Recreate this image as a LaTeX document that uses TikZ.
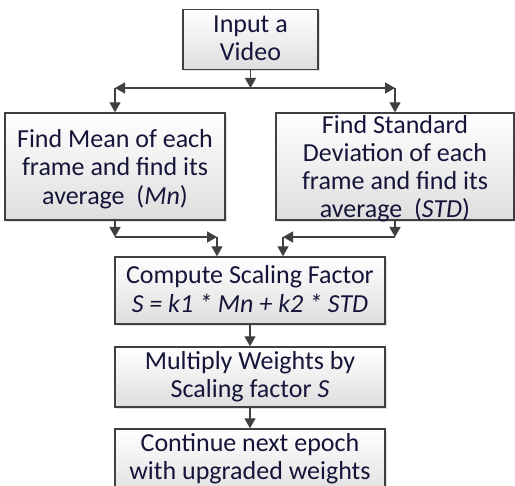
\documentclass[tikz,border=0pt]{standalone}
\usepackage{fontspec}
\setmainfont{Carlito}
\usetikzlibrary{arrows.meta,shadows}
\definecolor{ln}{HTML}{404040}
\definecolor{tx}{HTML}{15153A}
\begin{document}
\begin{tikzpicture}[x=1pt,y=-1pt,
  box/.style={draw=ln, line width=1.4pt, inner sep=0pt, top color=white, bottom color=black!13,
    drop shadow={shadow xshift=2pt, shadow yshift=-2pt, opacity=0.25}},
  txt/.style={font=\fontsize{26}{28.3}\selectfont, text=tx, align=center, inner sep=0pt},
  arr/.style={draw=ln, line width=1.4pt, -{Triangle[length=10pt,width=11pt]}}]
\useasboundingbox (0,0) rectangle (515,486);
% boxes
\node[box, minimum width=135pt, minimum height=60pt] (in) at (250.5,39.5) {};
\node[box, minimum width=220pt, minimum height=107pt] (mean) at (115,166.5) {};
\node[box, minimum width=238pt, minimum height=107pt] (std) at (395,166.5) {};
\node[box, minimum width=270pt, minimum height=67pt] (comp) at (250,290.5) {};
\node[box, minimum width=270pt, minimum height=60pt] (mult) at (250,377) {};
\node[box, minimum width=270pt, minimum height=70pt] (cont) at (250,464) {};
% texts
\node[txt] (intxt) at (250.5,38.5) {Input a\\Video};
\node[txt] (meantxt) at (115,169) {Find Mean of each\\frame and find its\\average\ \ (\textit{Mn})};
\node[txt] (stdtxt) at (395,168.7) {Find Standard\\Deviation of each\\frame and find its\\average\ \ (\textit{STD})};
\node[txt] (comptxt) at (250,289) {Compute Scaling Factor\\\textit{S = k1 * Mn + k2 * STD}};
\node[txt] (multtxt) at (250,377) {Multiply Weights by\\Scaling factor \textit{S}};
\node[txt] (conttxt) at (250,458.5) {Continue next epoch\\with upgraded weights};
% connector points
\coordinate (split) at (250.5,88);
\coordinate (lc) at (115,88);
\coordinate (rc) at (395,88);
\coordinate (ml) at (115,237);
\coordinate (mr) at (217,237);
\coordinate (sr) at (395,237);
\coordinate (sl) at (283,237);
% connectors
\draw[arr] (in.south) -- (split);
\draw[arr] (split) -- (lc);
\draw[arr] (split) -- (rc);
\draw[arr] (lc) -- (mean.north);
\draw[arr] (rc) -- (std.north);
\draw[arr] (mean.south) -- (ml);
\draw[arr] (ml) -- (mr);
\draw[arr] (mr) -- (mr |- comp.north);
\draw[arr] (std.south) -- (sr);
\draw[arr] (sr) -- (sl);
\draw[arr] (sl) -- (sl |- comp.north);
\draw[arr] (comp.south) -- (mult.north);
\draw[arr] (mult.south) -- (cont.north);
\end{tikzpicture}
\end{document}
